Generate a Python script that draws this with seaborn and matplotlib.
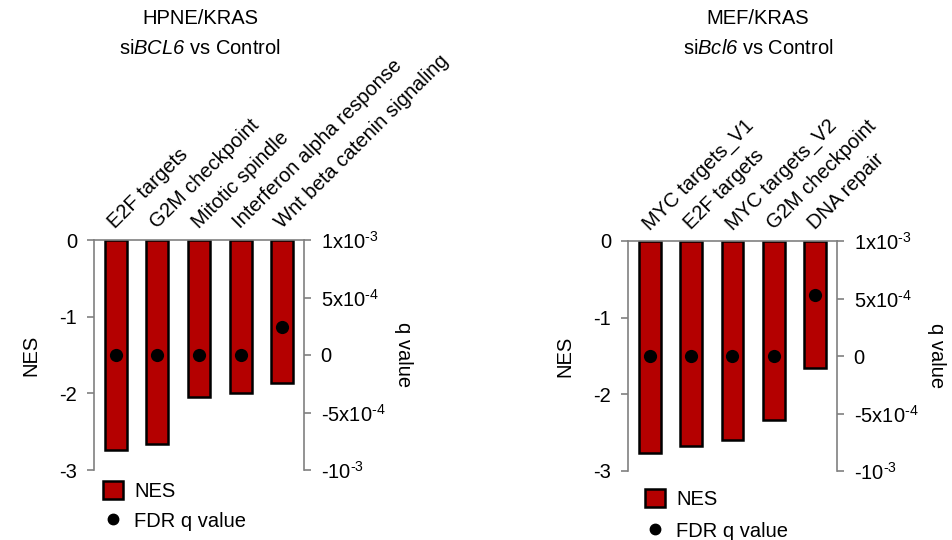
import numpy as np
import pandas as pd
import matplotlib
matplotlib.use("Agg")
import matplotlib.pyplot as plt
import seaborn as sns
from matplotlib.patches import Patch
from matplotlib.lines import Line2D

# ---- data ----
hpne_cats = ["E2F targets", "G2M checkpoint", "Mitotic spindle",
             "Interferon alpha response", "Wnt beta catenin signaling"]
hpne_nes = [-2.74, -2.66, -2.05, -1.99, -1.87]
hpne_q = [0.0, 0.0, 0.0, 0.0, 2.4e-4]

mef_cats = ["MYC targets_V1", "E2F targets", "MYC targets_V2",
            "G2M checkpoint", "DNA repair"]
mef_nes = [-2.77, -2.67, -2.59, -2.33, -1.65]
mef_q = [0.0, 0.0, 0.0, 0.0, 5.3e-4]

nes_ticks = [0, -1, -2, -3]
q_ticks = [1e-3, 5e-4, 0, -5e-4, -1e-3]
q_ticklabels = ["1x10$^{\\text{-3}}$", "5x10$^{\\text{-4}}$", "0",
                "-5x10$^{\\text{-4}}$", "-10$^{\\text{-3}}$"]

RED = "#B40000"
GRAY = "#808080"

sns.set_theme(style="white")
plt.rcParams["font.family"] = ["Liberation Sans", "DejaVu Sans"]
plt.rcParams["mathtext.fontset"] = "custom"
plt.rcParams["mathtext.rm"] = "Liberation Sans"
plt.rcParams["mathtext.it"] = "Liberation Sans:italic"
plt.rcParams["mathtext.sf"] = "Liberation Sans:italic"
plt.rcParams["mathtext.default"] = "regular"
plt.rcParams["axes.unicode_minus"] = False
plt.rcParams["text.color"] = "black"
plt.rcParams["axes.labelcolor"] = "black"
plt.rcParams["xtick.color"] = "black"
plt.rcParams["ytick.color"] = "black"

FS = 14.5

fig = plt.figure(figsize=(9.53, 5.4), dpi=100)
W, H = 953, 540


def panel(rect, cats, nes, q, t1, t2, tcx, leg_xy, leg_gap):
    ax = fig.add_axes(rect)
    df = pd.DataFrame({"cat": cats, "nes": nes, "q": q})
    sns.barplot(data=df, x="cat", y="nes", order=cats, ax=ax, color=RED,
                saturation=1, edgecolor="black", linewidth=1.8, width=0.53,
                errorbar=None)
    ax.set_ylim(-3, 0)
    ax.set_xlim(-0.52, 4.52)
    ax.set_yticks(nes_ticks)
    ax.set_yticklabels([str(t) for t in nes_ticks], fontsize=FS)
    ax.set_ylabel("NES", fontsize=FS, labelpad=14)
    ax.set_xlabel("")
    for s in ["left", "top"]:
        ax.spines[s].set_visible(True)
        ax.spines[s].set_color(GRAY)
        ax.spines[s].set_linewidth(1.2)
    ax.spines["bottom"].set_visible(False)
    ax.spines["right"].set_visible(False)
    ax.tick_params(axis="y", left=True, direction="out", length=5, width=1.2,
                   color=GRAY, pad=7)

    ax2 = ax.twinx()
    sns.stripplot(data=df, x="cat", y="q", order=cats, ax=ax2, color="black",
                  jitter=False, size=9.5, linewidth=0, zorder=5)
    ax2.set_ylim(-1e-3, 1e-3)
    ax2.set_xlim(-0.52, 4.52)
    ax2.set_yticks(q_ticks)
    ax2.set_yticklabels(q_ticklabels, fontsize=FS)
    ax2.set_ylabel("q value", fontsize=FS, rotation=270, labelpad=20)
    ax2.set_xlabel("")
    for s in ["left", "top", "bottom"]:
        ax2.spines[s].set_visible(False)
    ax2.spines["right"].set_visible(True)
    ax2.spines["right"].set_color(GRAY)
    ax2.spines["right"].set_linewidth(1.2)
    ax2.tick_params(axis="y", right=True, direction="out", length=5, width=1.2,
                    color=GRAY, pad=7)

    # category labels on top
    ax.xaxis.tick_top()
    ax.set_xticks(range(len(cats)))
    ax.set_xticklabels(cats, fontsize=FS)
    ax.tick_params(axis="x", top=False, bottom=False, labeltop=True,
                   labelbottom=False, pad=1.5)
    plt.setp(ax.get_xticklabels(), rotation=45, ha="left", va="baseline",
             rotation_mode="anchor")
    ax2.tick_params(axis="x", top=False, bottom=False, labeltop=False,
                    labelbottom=False)

    fig.text(tcx / W, 1 - 18 / H, t1, ha="center", va="center", fontsize=FS)
    fig.text(tcx / W, 1 - 49 / H, t2, ha="center", va="center", fontsize=FS)

    handles = [Patch(facecolor=RED, edgecolor="black", linewidth=1.8),
               Line2D([], [], marker="o", color="black", linestyle="none",
                      markersize=7.5)]
    fig.legend(handles, ["NES", "FDR q value"], loc="upper left",
               bbox_to_anchor=(leg_xy[0] / W, 1 - leg_xy[1] / H),
               frameon=False, fontsize=FS, handlelength=1.0, handleheight=1.0,
               handletextpad=0.55, labelspacing=leg_gap, borderpad=0,
               borderaxespad=0)
    return ax, ax2


panel([94 / W, 1 - 470 / H, 210 / W, 230 / H], hpne_cats, hpne_nes, hpne_q,
      "HPNE/KRAS", "si$\\mathsf{BCL6}$ vs Control", 200, (103, 481), 0.5)
panel([628 / W, 1 - 471 / H, 209 / W, 230 / H], mef_cats, mef_nes, mef_q,
      "MEF/KRAS", "si$\\mathsf{Bcl6}$ vs Control", 758, (645, 489), 0.62)

fig.savefig("out.png", dpi=100)
